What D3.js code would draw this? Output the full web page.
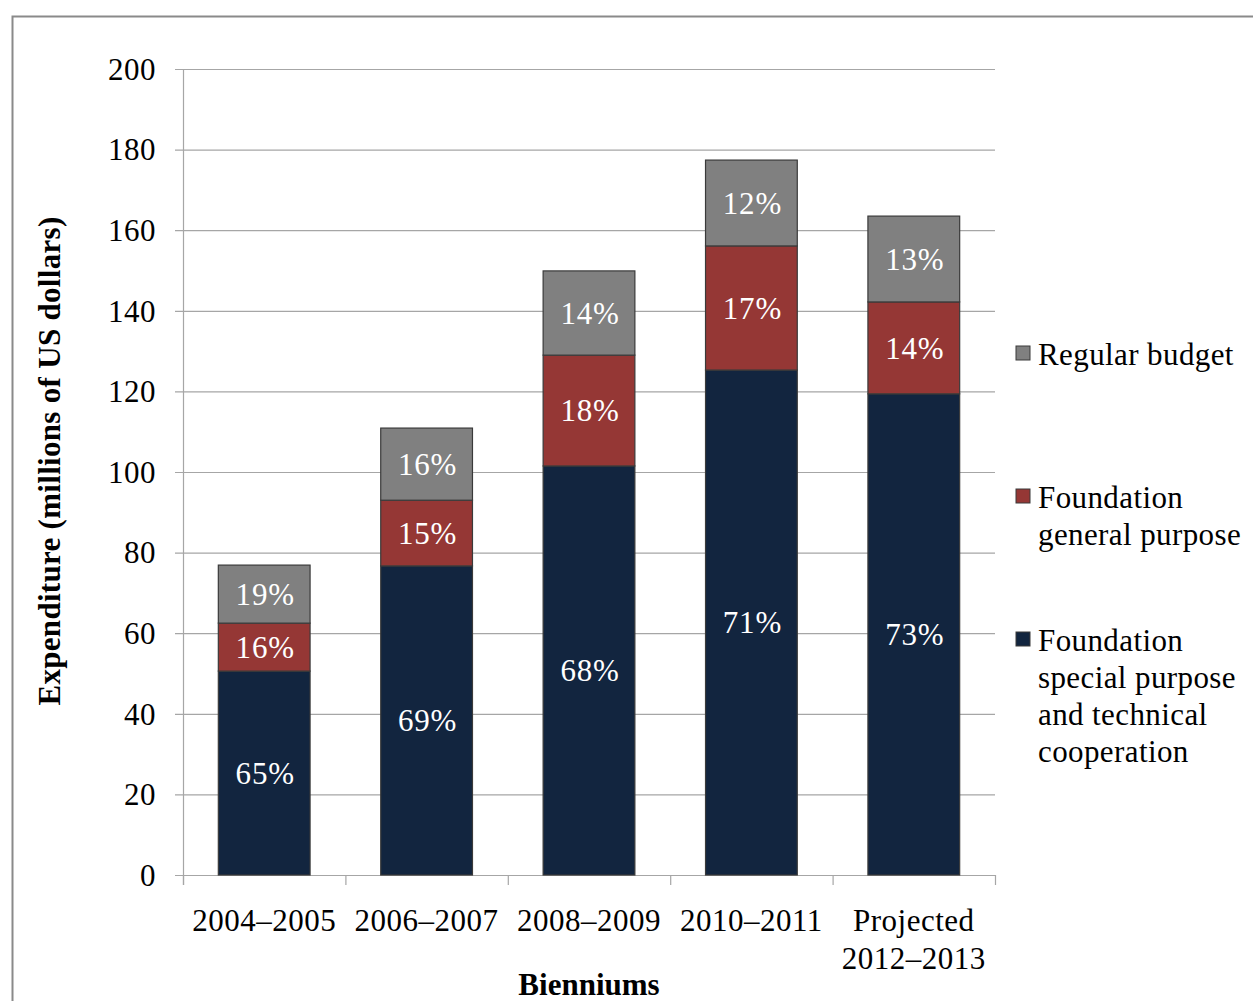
<!DOCTYPE html>
<html><head><meta charset="utf-8">
<script src="https://cdn.jsdelivr.net/npm/d3@7"></script>
<style>body{margin:0;background:#fff}svg{display:block}</style>
</head><body><svg id="c" width="1253" height="1001"></svg>
<script>
const categories = ["2004–2005","2006–2007","2008–2009","2010–2011","Projected 2012–2013"];
const categoryLines = [["2004–2005"],["2006–2007"],["2008–2009"],["2010–2011"],["Projected","2012–2013"]];
const specialPurpose = [50.6, 76.7, 101.5, 125.3, 119.4];
const generalPurpose = [11.9, 16.3, 27.5, 30.8, 22.8];
const regularBudget = [14.4, 17.9, 20.9, 21.3, 21.3];
const specialPct = ["65%","69%","68%","71%","73%"];
const generalPct = ["16%","15%","18%","17%","14%"];
const regularPct = ["19%","16%","14%","12%","13%"];
const yTicks = [0,20,40,60,80,100,120,140,160,180,200];
const seriesNames = ["Foundation special purpose and technical cooperation","Foundation general purpose","Regular budget"];
const colors = ["#12253F","#953735","#808080"];

const svg = d3.select("#c");
const font = "'Liberation Serif','Times New Roman',serif";
const L = 183, R = 995, T = 69, B = 875;
const x = d3.scaleBand().domain(categories).range([L, R]).paddingInner(0.435).paddingOuter(0.2175);
const y = d3.scaleLinear().domain([0, 200]).range([B, T]);

// outer frame
svg.append("rect").attr("x", 12.5).attr("y", 16.5).attr("width", 1300).attr("height", 1100)
  .attr("fill", "none").attr("stroke", "#8a8a8a").attr("stroke-width", 2);

// gridlines
svg.append("g").selectAll("line").data(yTicks).join("line")
  .attr("x1", L - 8).attr("x2", R).attr("y1", d => y(d) + 0.5).attr("y2", d => y(d) + 0.5)
  .attr("stroke", "#a6a6a6").attr("stroke-width", 1.2);
// y axis line
svg.append("line").attr("x1", L + 0.5).attr("x2", L + 0.5).attr("y1", T).attr("y2", B + 10)
  .attr("stroke", "#a6a6a6").attr("stroke-width", 1.2);
// x ticks at band boundaries
const step = (R - L) / categories.length;
svg.append("g").selectAll("line").data(d3.range(categories.length + 1)).join("line")
  .attr("x1", i => L + i * step + 0.5).attr("x2", i => L + i * step + 0.5)
  .attr("y1", B).attr("y2", B + 10).attr("stroke", "#a6a6a6").attr("stroke-width", 1.2);

// y tick labels
svg.append("g").selectAll("text").data(yTicks).join("text")
  .attr("x", 156).attr("y", d => y(d)).attr("dy", "0.35em").attr("text-anchor", "end")
  .attr("font-family", font).attr("font-size", 31).attr("letter-spacing", 0.5).attr("fill", "#000").text(d => d);

// stacked bars
const pcts = [specialPct, generalPct, regularPct];
const rows = categories.map((c, i) => ({cat: c, s0: specialPurpose[i], s1: generalPurpose[i], s2: regularBudget[i]}));
const stack = d3.stack().keys(["s0","s1","s2"])(rows);
stack.forEach((layer, k) => {
  const g = svg.append("g");
  g.selectAll("rect").data(layer).join("rect")
    .attr("x", d => x(d.data.cat)).attr("width", x.bandwidth())
    .attr("y", d => y(d[1])).attr("height", d => y(d[0]) - y(d[1]))
    .attr("fill", colors[k]).attr("stroke", "#3a3a3a").attr("stroke-width", 1.2);
  g.selectAll("text").data(layer).join("text")
    .attr("x", d => x(d.data.cat) + x.bandwidth() / 2 + 1)
    .attr("y", d => (y(d[0]) + y(d[1])) / 2).attr("dy", "0.35em")
    .attr("text-anchor", "middle").attr("font-family", font).attr("font-size", 31).attr("letter-spacing", 0.8)
    .attr("fill", "#fff").text((d, i) => pcts[k][i]);
});

// x labels
categoryLines.forEach((lines, i) => {
  const cx = x(categories[i]) + x.bandwidth() / 2;
  const t = svg.append("text").attr("text-anchor", "middle").attr("font-family", font)
    .attr("font-size", 31).attr("letter-spacing", 0.5).attr("fill", "#000");
  lines.forEach((ln, j) => t.append("tspan").attr("x", cx).attr("y", 931 + j * 38).text(ln));
});

// axis titles
svg.append("text").attr("x", 589).attr("y", 995).attr("text-anchor", "middle")
  .attr("font-family", font).attr("font-weight", "bold").attr("font-size", 31).text("Bienniums");
svg.append("text").attr("transform", "translate(60,461) rotate(-90)").attr("text-anchor", "middle")
  .attr("font-family", font).attr("font-weight", "bold").attr("font-size", 31).attr("letter-spacing", 0.3)
  .text("Expenditure (millions of US dollars)");

// legend
const legend = [
  {name: seriesNames[2], color: colors[2], lines: ["Regular budget"], y: 354},
  {name: seriesNames[1], color: colors[1], lines: ["Foundation","general purpose"], y: 497},
  {name: seriesNames[0], color: colors[0], lines: ["Foundation","special purpose","and technical","cooperation"], y: 640}
];
legend.forEach(l => {
  svg.append("rect").attr("x", 1016).attr("y", l.y - 8).attr("width", 14).attr("height", 14)
    .attr("fill", l.color).attr("stroke", "#3a3a3a").attr("stroke-width", 1);
  const t = svg.append("text").attr("font-family", font).attr("font-size", 31).attr("letter-spacing", 0.4).attr("fill", "#000");
  l.lines.forEach((ln, j) => t.append("tspan").attr("x", 1038).attr("y", l.y + j * 37).attr("dy", "0.35em").text(ln));
});
</script></body></html>
